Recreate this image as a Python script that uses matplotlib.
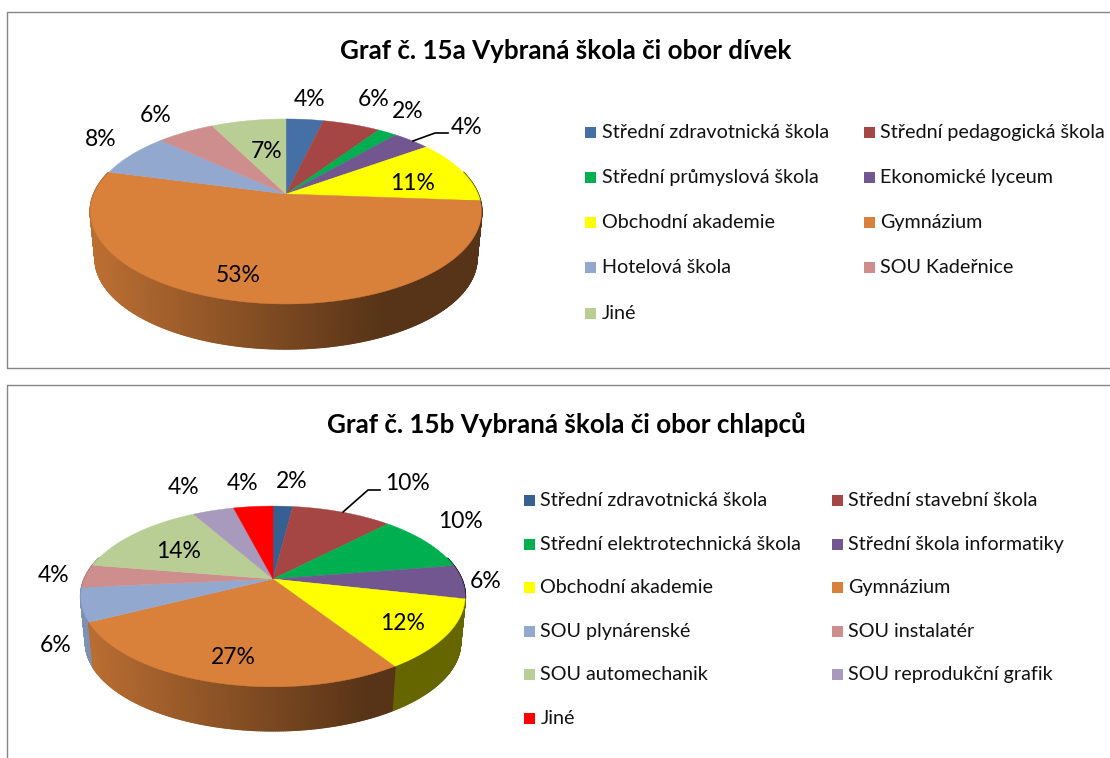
import numpy as np
import matplotlib
matplotlib.use('Agg')
import matplotlib.pyplot as plt
from matplotlib.collections import PolyCollection
from matplotlib.colors import to_rgb

plt.rcParams['font.family'] = ['Lato', 'DejaVu Sans']

# slice shares, percent (labels are these rounded)
girls_labels = ['Střední zdravotnická škola', 'Střední pedagogická škola', 'Střední průmyslová škola',
                'Ekonomické lyceum', 'Obchodní akademie', 'Gymnázium', 'Hotelová škola', 'SOU Kadeřnice', 'Jiné']
girls_values = [3.7, 5.7, 1.9, 3.7, 11.1, 52.8, 7.7, 5.7, 7.4]
boys_labels = ['Střední zdravotnická škola', 'Střední stavební škola', 'Střední elektrotechnická škola',
               'Střední škola informatiky', 'Obchodní akademie', 'Gymnázium', 'SOU plynárenské', 'SOU instalatér',
               'SOU automechanik', 'SOU reprodukční grafik', 'Jiné']
boys_values = [2.0, 10.2, 10.3, 6.0, 12.4, 26.6, 6.0, 4.1, 14.2, 4.2, 4.0]

girls_colors = ['#4470A5', '#A64644', '#00B050', '#725690', '#FFFF00', '#D9803A', '#92A8CF', '#CE8E8D', '#B8CE94']
boys_colors = ['#376092', '#A64644', '#00B050', '#725690', '#FFFF00', '#D9803A', '#92A8CF', '#CE8E8D', '#B8CE94',
               '#A89ABC', '#FF0000']

girls_label_xy = [(310, 100), (374, 100), (408, 112), (467, 128), (413, 184), (238, 275), (101, 139), (156, 116), (267, 151)]
boys_label_xy = [(292, 482), (407, 484), (460, 522), (486, 582), (403, 624), (233, 657), (56, 646), (54, 576),
                 (179, 552), (184, 488), (243, 484)]


def rim(theta, cx, cy, a, b, k):
    # tilted circle: the apex is not the middle of the ellipse
    u, v = np.sin(theta), np.cos(theta)
    return cx + a * u / (1 + k * v), cy - b * v / (1 + k * v)


def draw_pie(ax, values, colors, cx, cy, a, b, k, depth):
    edges = np.cumsum([0] + list(values)) / sum(values) * 2 * np.pi
    left, right = cx - a * 1.02, cx + a * 1.02

    # side wall first, the top face covers what is hidden
    quads, quad_colors, order = [], [], []
    for i, c in enumerate(colors):
        n = max(int((edges[i + 1] - edges[i]) * 120), 2)
        t = np.linspace(edges[i], edges[i + 1], n + 1)
        for t0, t1 in zip(t[:-1], t[1:]):
            if np.cos((t0 + t1) / 2) > 0.25:
                continue
            x0, y0 = rim(t0, cx, cy, a, b, k)
            x1, y1 = rim(t1, cx, cy, a, b, k)
            x2, y2 = rim(t1, cx, cy + depth, a * 0.975, b * 0.975, k)
            x3, y3 = rim(t0, cx, cy + depth, a * 0.975, b * 0.975, k)
            frac = ((x0 + x1) / 2 - left) / (right - left)
            shade = max(0.87 - 0.47 * frac / 0.75, 0.40)
            quads.append([(x0, y0), (x1, y1), (x2, y2), (x3, y3)])
            quad_colors.append(tuple(np.array(to_rgb(c)) * shade))
            order.append(np.cos((t0 + t1) / 2))
    idx = np.argsort(order)[::-1]
    ax.add_collection(PolyCollection([quads[j] for j in idx], facecolors=[quad_colors[j] for j in idx],
                                     edgecolors=[quad_colors[j] for j in idx], linewidths=1.4))

    for i, c in enumerate(colors):
        t = np.linspace(edges[i], edges[i + 1], 100)
        x, y = rim(t, cx, cy, a, b, k)
        ax.fill(np.r_[cx, x], np.r_[cy, y], facecolor=c, edgecolor=c, linewidth=0.3)


def draw_chart(ax, title, title_x, title_y, values, colors, labels, label_xy, legend_x, legend_y, geom):
    draw_pie(ax, values, colors, *geom)
    ax.text(title_x, title_y, title, ha='center', va='center', fontsize=18.7, fontweight='bold', color='black')
    for v, (x, y) in zip(values, label_xy):
        ax.text(x, y, '%d%%' % round(v), ha='center', va='center', fontsize=16.5, color='black')
    for i, (name, c) in enumerate(zip(labels, colors)):
        x = legend_x[i % 2]
        y = legend_y[i // 2]
        ax.fill([x, x + 11, x + 11, x], [y - 5.5, y - 5.5, y + 5.5, y + 5.5], color=c, linewidth=0)
        ax.text(x + 16.5, y + 0.5, name, ha='left', va='center', fontsize=14.2, color='#111111')


fig = plt.figure(figsize=(11.1, 7.58), dpi=100)
ax = fig.add_axes([0, 0, 1, 1])
ax.set_xlim(0, 1110)
ax.set_ylim(758, 0)
ax.axis('off')

# chart frames run off the page on the right and bottom
ax.plot([1110, 7, 7, 1110], [12, 12, 367.5, 367.5], color='#868686', lw=1)
ax.plot([1110, 7, 7], [385, 385, 758], color='#868686', lw=1)

draw_chart(ax, 'Graf č. 15a Vybraná škola či obor dívek', 566, 51, girls_values, girls_colors, girls_labels,
           girls_label_xy, (585, 864), (132, 177, 222, 267, 313), (286, 194, 192, 89.2, 0.189, 47.5))
draw_chart(ax, 'Graf č. 15b Vybraná škola či obor chlapců', 566, 425, boys_values, boys_colors, boys_labels,
           boys_label_xy, (524, 832), (500, 544, 587, 631, 674, 718), (273, 579, 188.5, 87, 0.193, 46.5))

# leader lines
ax.plot([413, 435, 448], [141, 133, 133], color='black', lw=1.2)
ax.plot([343, 368, 380], [512, 490, 490], color='black', lw=1.2)

fig.savefig('out.png', dpi=100)
